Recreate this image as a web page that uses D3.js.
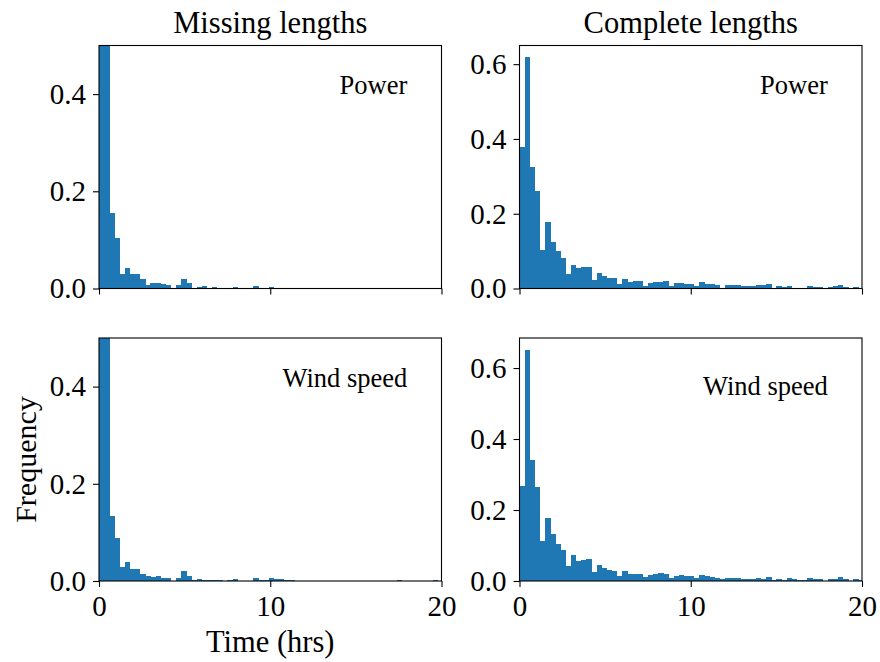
<!DOCTYPE html>
<html>
<head>
<meta charset="utf-8">
<script src="https://cdn.jsdelivr.net/npm/d3@7"></script>
<style>
  body { margin: 0; background: #fff; }
  text { font-family: "Liberation Serif", "DejaVu Serif", serif; fill: #000; }
</style>
</head>
<body>
<script>
"use strict"

// histogram bins: width in hours, density values per bin
const binWidth = 0.3

const missingPower = [
  2.1, 0.75, 0.156, 0.104, 0.030, 0.043, 0.030, 0.030, 0.020, 0.0076,
  0.0117, 0.0117, 0.0096, 0.0076, 0.001, 0.0076, 0.020, 0.0117, 0.002, 0.0034,
  0.0055, 0.0014, 0.0034, 0.0014, 0.0014, 0.0014, 0.0034, 0.0014, 0, 0,
  0.0055, 0, 0, 0.0034, 0, 0.001, 0, 0.001, 0, 0,
  0, 0, 0, 0, 0, 0, 0, 0, 0, 0,
  0, 0, 0, 0, 0, 0, 0, 0, 0.001, 0,
  0, 0, 0, 0, 0, 0, 0,
]

const missingWind = [
  2.3, 0.8, 0.133, 0.088, 0.028, 0.039, 0.025, 0.025, 0.014, 0.010,
  0.009, 0.011, 0.007, 0.007, 0.001, 0.007, 0.021, 0.011, 0.002, 0.0045,
  0.0025, 0.0025, 0.0025, 0.0025, 0, 0.0025, 0.0045, 0, 0, 0,
  0.0065, 0.0025, 0.0025, 0.0055, 0.004, 0.004, 0.002, 0.002, 0, 0,
  0, 0, 0, 0, 0, 0, 0, 0, 0, 0,
  0, 0, 0, 0, 0, 0, 0, 0, 0.002, 0,
  0, 0, 0, 0, 0, 0.003, 0,
]

const completePower = [
  0.378, 0.619, 0.324, 0.260, 0.103, 0.178, 0.125, 0.100, 0.082, 0.039,
  0.063, 0.055, 0.058, 0.058, 0.023, 0.042, 0.034, 0.028, 0.028, 0.012,
  0.026, 0.018, 0.020, 0.020, 0.006, 0.014, 0.017, 0.017, 0.020, 0.006,
  0.014, 0.014, 0.0116, 0.0116, 0.006, 0.017, 0.0116, 0.0116, 0.009, 0.001,
  0.009, 0.009, 0.009, 0.006, 0.006, 0.006, 0.009, 0.009, 0.0116, 0.001,
  0.006, 0.0036, 0.006, 0.001, 0.001, 0.001, 0.006, 0.0036, 0.0036, 0.0005,
  0.0036, 0.006, 0.009, 0.0036, 0.0005, 0.0036, 0.001,
]

const completeWind = [
  0.267, 0.652, 0.340, 0.264, 0.112, 0.177, 0.132, 0.104, 0.087, 0.042,
  0.073, 0.056, 0.059, 0.062, 0.025, 0.045, 0.037, 0.031, 0.028, 0.014,
  0.028, 0.020, 0.020, 0.020, 0.011, 0.017, 0.020, 0.022, 0.020, 0.008,
  0.014, 0.017, 0.014, 0.014, 0.008, 0.017, 0.014, 0.011, 0.008, 0.006,
  0.008, 0.008, 0.008, 0.006, 0.006, 0.006, 0.008, 0.006, 0.011, 0.003,
  0.006, 0.003, 0.008, 0.006, 0.003, 0.003, 0.008, 0.006, 0.006, 0,
  0.006, 0.006, 0.011, 0.006, 0, 0.006, 0.003,
]

const columnTitles = ["Missing lengths", "Complete lengths"]
const rowLabels    = ["Power", "Wind speed"]
const xDomain      = [0, 20]
const xTicks       = [0, 10, 20]
const yTicksMissing  = [0, 0.2, 0.4]
const yTicksComplete = [0, 0.2, 0.4, 0.6]

// panel layout
const area   = [880, 662]
const colX   = [99, 519.5]
const rowY   = [45.5, 338]
const width  = 342.5
const height = 243

const panels = [
  { row : 0, col : 0, values : missingPower,  yMax : 0.5, yTicks : yTicksMissing,  labelY : 0.80 },
  { row : 0, col : 1, values : completePower, yMax : null, yTicks : yTicksComplete, labelY : 0.80 },
  { row : 1, col : 0, values : missingWind,   yMax : 0.5, yTicks : yTicksMissing,  labelY : 0.80 },
  { row : 1, col : 1, values : completeWind,  yMax : null, yTicks : yTicksComplete, labelY : 0.765 },
]

const translate = (x, y) => `translate(${x} ${y})`
const fmt = d3.format(".1f")

const svg = d3.select("body").append("svg")
  .attr("width", area[0])
  .attr("height", area[1])

panels.forEach((p, i) => {
  const bins = p.values.map((v, k) => ({ x0 : k * binWidth, x1 : (k + 1) * binWidth, v }))
  const yMax = p.yMax != null ? p.yMax : d3.max(p.values) * 1.05

  const x = d3.scaleLinear().domain(xDomain).range([0, width])
  const y = d3.scaleLinear().domain([0, yMax]).range([height, 0])

  const g = svg.append("g").attr("transform", translate(colX[p.col], rowY[p.row]))

  g.append("clipPath").attr("id", "clip" + i)
    .append("rect").attr("width", width).attr("height", height)

  g.append("g").attr("clip-path", `url(#clip${i})`)
    .selectAll("rect")
    .data(bins.filter(b => b.v > 0))
    .join("rect")
    .attr("x", b => x(b.x0))
    .attr("width", b => x(b.x1) - x(b.x0) + 0.3)
    .attr("y", b => y(b.v))
    .attr("height", b => y(0) - y(b.v))
    .attr("fill", "#1f77b4")
    .attr("shape-rendering", "crispEdges")

  // axes
  const yAxis = g.append("g")
    .call(d3.axisLeft(y).tickValues(p.yTicks).tickFormat(fmt).tickSize(6).tickPadding(7).tickSizeOuter(0))
  const xAxis = g.append("g").attr("transform", translate(0, height))
    .call(d3.axisBottom(x).tickValues(xTicks).tickFormat(p.row === 1 ? d3.format("d") : () => "")
      .tickSize(6).tickPadding(8).tickSizeOuter(0))

  ;[yAxis, xAxis].forEach(a => {
    a.select(".domain").remove()
    a.selectAll("line").attr("stroke", "#000").attr("stroke-width", 1.1)
    a.selectAll("text").attr("font-size", 29).attr("font-family", "Liberation Serif")
  })

  // frame
  g.append("rect")
    .attr("width", width).attr("height", height)
    .attr("fill", "none").attr("stroke", "#000").attr("stroke-width", 1.1)

  // series label inside the panel
  g.append("text")
    .attr("x", width * 0.9)
    .attr("y", height * (1 - p.labelY))
    .attr("text-anchor", "end")
    .attr("font-size", 26.5)
    .text(rowLabels[p.row])

  if (p.row === 0) {
    g.append("text")
      .attr("x", width / 2).attr("y", -13)
      .attr("text-anchor", "middle")
      .attr("font-size", 30.5)
      .text(columnTitles[p.col])
  }

  if (p.row === 1 && p.col === 0) {
    g.append("text")
      .attr("x", width / 2).attr("y", height + 71)
      .attr("text-anchor", "middle")
      .attr("font-size", 30.5)
      .text("Time (hrs)")
    g.append("text")
      .attr("transform", translate(-63, height / 2) + " rotate(-90)")
      .attr("text-anchor", "middle")
      .attr("font-size", 30)
      .text("Frequency")
  }
})
</script>
</body>
</html>
